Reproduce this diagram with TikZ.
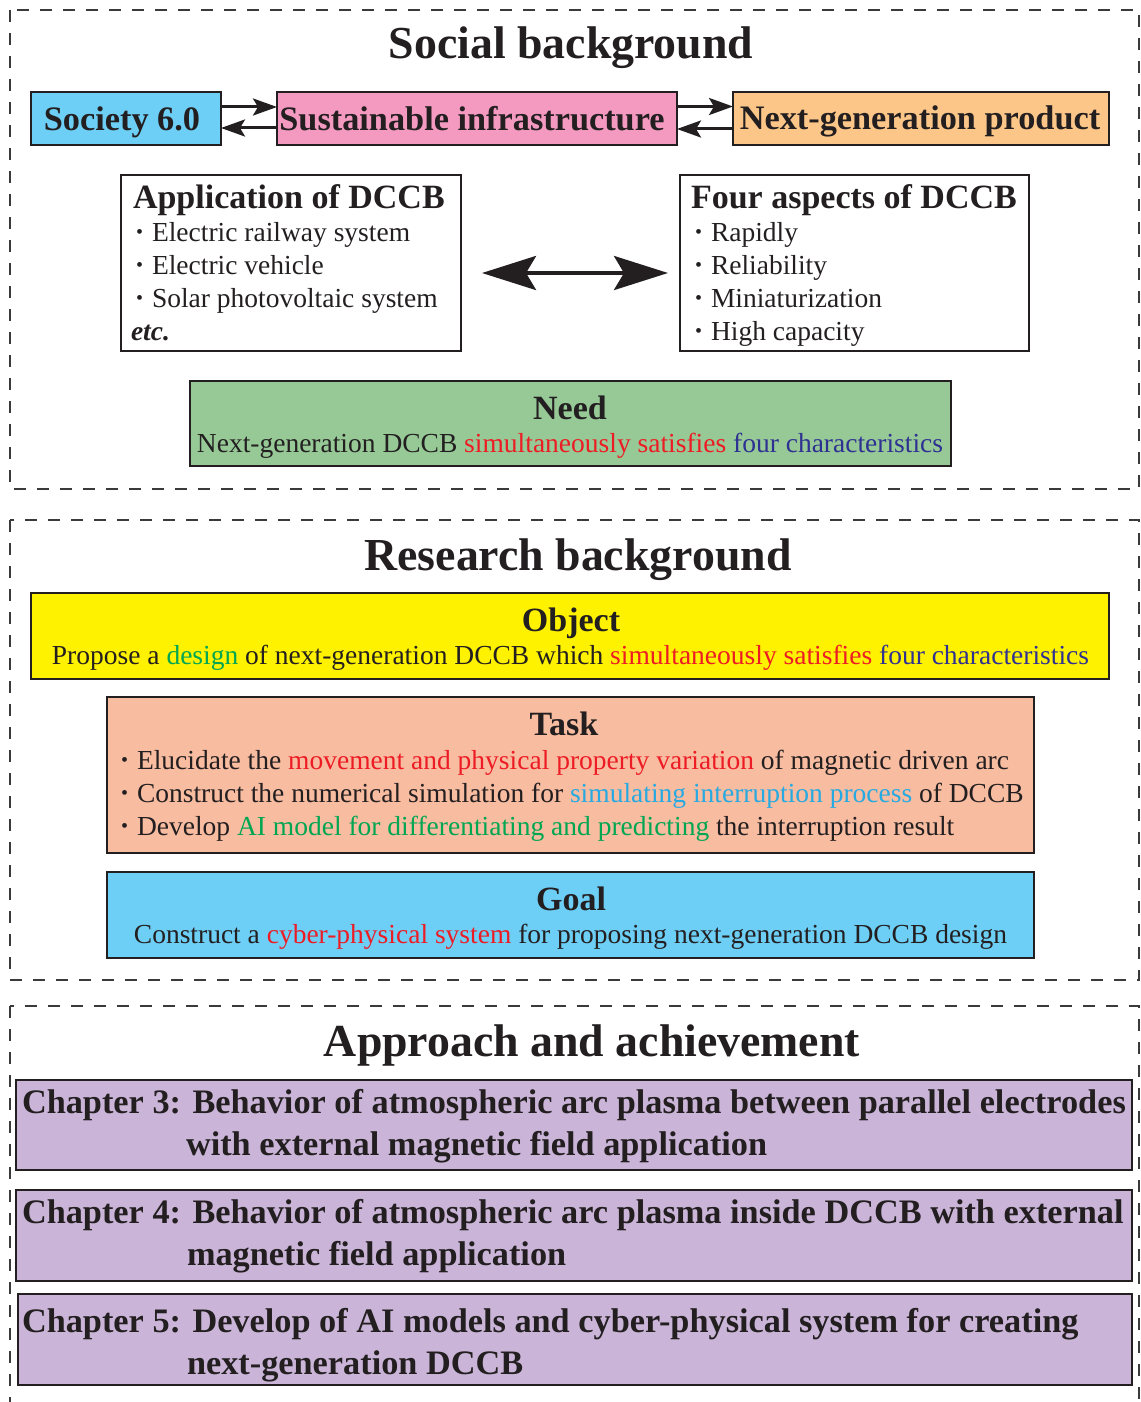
\documentclass[tikz,border=0pt]{standalone}
\usepackage{fontspec}
\setmainfont{Liberation Serif}
\usetikzlibrary{arrows.meta}

\definecolor{ink}{HTML}{231F20}
\definecolor{frameline}{HTML}{3A3A3C}
\definecolor{cyanfill}{HTML}{6DCFF6}
\definecolor{pinkfill}{HTML}{F49AC1}
\definecolor{orangefill}{HTML}{FDC689}
\definecolor{greenfill}{HTML}{97C997}
\definecolor{yellowfill}{HTML}{FFF200}
\definecolor{salmonfill}{HTML}{F8BCA1}
\definecolor{lavenderfill}{HTML}{CAB5D8}
\definecolor{hlred}{HTML}{ED1C24}
\definecolor{hlnavy}{HTML}{2E3192}
\definecolor{hlgreen}{HTML}{00A651}
\definecolor{hlsky}{HTML}{27AAE1}

\newcommand{\fsz}[1]{\fontsize{#1}{#1}\selectfont}
\newcommand{\dotmark}{\makebox[16pt][l]{\raisebox{2.5pt}{\fsz{20}\textbullet}}}

\begin{document}
\begin{tikzpicture}[x=1pt,y=-1pt,
  box/.style={draw=ink, line width=2pt, inner sep=0pt, outer sep=0pt},
  txt/.style={inner sep=0pt, outer sep=0pt, text=ink},
  sectitle/.style={txt, anchor=base, font=\fsz{45.8}\bfseries},
  rowtxt/.style={txt, anchor=base, font=\fsz{34.3}\bfseries},
  boxtitle/.style={txt, anchor=base, font=\fsz{34}\bfseries},
  bodytxt/.style={txt, anchor=base, font=\fsz{27.5}},
  listtxt/.style={txt, anchor=base west, font=\fsz{27.5}},
  chaptxt/.style={txt, anchor=base west, font=\fsz{34.3}\bfseries},
  frame/.style={draw=frameline, line width=2pt, dash pattern=on 12pt off 11pt},
  linkarrow/.style={draw=ink, line width=3pt, -{Stealth[length=24pt, width=17pt, inset=5pt]}},
  bigarrow/.style={draw=ink, line width=4pt, {Stealth[length=54pt, width=34pt, inset=10pt]}-{Stealth[length=54pt, width=34pt, inset=10pt]}}
]
\useasboundingbox (0,0) rectangle (1140,1402);
\clip (0,0) rectangle (1140,1402);

% dashed section frames
\draw[frame] (10,10) rectangle (1139,489);
\draw[frame] (10,520) rectangle (1139,980);
\draw[frame] (10,1006) rectangle (1139,1420);

% ---------------- Social background ----------------
\node[sectitle] (socialtitle) at (571,59) {Social background};

\node[box, fill=cyanfill, minimum width=190pt, minimum height=53pt] (soc) at (126,118.5) {};
\node[box, fill=pinkfill, minimum width=400pt, minimum height=53pt] (sus) at (477,118.5) {};
\node[box, fill=orangefill, minimum width=376pt, minimum height=53pt] (nxt) at (921,118.5) {};
\node[rowtxt] (soctxt) at (122,131) {Society 6.0};
\node[rowtxt] (sustxt) at (472,131) {Sustainable infrastructure};
\node[rowtxt] (nxttxt) at (920,130) {Next-generation product};

\draw[linkarrow] ([yshift=11.5pt]soc.east) -- ([yshift=11.5pt]sus.west);
\draw[linkarrow] ([yshift=-9.5pt]sus.west) -- ([yshift=-9.5pt]soc.east);
\draw[linkarrow] ([yshift=12pt]sus.east) -- ([yshift=12pt]nxt.west);
\draw[linkarrow] ([yshift=-10.5pt]nxt.west) -- ([yshift=-10.5pt]sus.east);

\node[box, minimum width=340pt, minimum height=176pt] (app) at (291,263) {};
\node[box, minimum width=349pt, minimum height=176pt] (four) at (854.5,263) {};

\node[boxtitle, anchor=base west] (apptitle) at (133,208) {Application of DCCB};
\node[listtxt] (app1) at (136,241) {\dotmark Electric railway system};
\node[listtxt] (app2) at (136,274) {\dotmark Electric vehicle};
\node[listtxt] (app3) at (136,307) {\dotmark Solar photovoltaic system};
\node[listtxt, font=\fsz{27.5}\bfseries\itshape] (app4) at (131,340) {etc.};

\node[boxtitle, anchor=base west] (fourtitle) at (691,208) {Four aspects of DCCB};
\node[listtxt] (four1) at (695,241) {\dotmark Rapidly};
\node[listtxt] (four2) at (695,274) {\dotmark Reliability};
\node[listtxt] (four3) at (695,307) {\dotmark Miniaturization};
\node[listtxt] (four4) at (695,340) {\dotmark High capacity};

\draw[bigarrow, shorten <=21pt, shorten >=12pt] ([yshift=-10pt]app.east) -- ([yshift=-10pt]four.west);

\node[box, fill=greenfill, minimum width=761pt, minimum height=85pt] (need) at (570.5,423.5) {};
\node[boxtitle] (needtitle) at (570,419) {Need};
\node[bodytxt] (needtxt) at (570,452) {Next-generation DCCB \textcolor{hlred}{simultaneously satisfies} \textcolor{hlnavy}{four characteristics}};

% ---------------- Research background ----------------
\node[sectitle] (researchtitle) at (578,570) {Research background};

\node[box, fill=yellowfill, minimum width=1078pt, minimum height=86pt] (obj) at (570,636) {};
\node[boxtitle] (objtitle) at (571,631) {Object};
\node[bodytxt] (objtxt) at (570.5,664) {Propose a \textcolor{hlgreen}{design} of next-generation DCCB which \textcolor{hlred}{simultaneously satisfies} \textcolor{hlnavy}{four characteristics}};

\node[box, fill=salmonfill, minimum width=927pt, minimum height=156pt] (task) at (570.5,775) {};
\node[boxtitle] (tasktitle) at (564,735) {Task};
\node[listtxt] (task1) at (121,769) {\dotmark Elucidate the \textcolor{hlred}{movement and physical property variation} of magnetic driven arc};
\node[listtxt] (task2) at (121,802) {\dotmark Construct the numerical simulation for \textcolor{hlsky}{simulating interruption process} of DCCB};
\node[listtxt] (task3) at (121,835) {\dotmark Develop \textcolor{hlgreen}{AI model for differentiating and predicting} the interruption result};

\node[box, fill=cyanfill, minimum width=927pt, minimum height=86pt] (goal) at (570.5,915) {};
\node[boxtitle] (goaltitle) at (571,910) {Goal};
\node[bodytxt] (goaltxt) at (570.5,943) {Construct a \textcolor{hlred}{cyber-physical system} for proposing next-generation DCCB design};

% ---------------- Approach and achievement ----------------
\node[sectitle] (approachtitle) at (592,1056) {Approach and achievement};

\node[box, fill=lavenderfill, minimum width=1116pt, minimum height=90pt] (ch3) at (574,1125) {};
\node[chaptxt] (ch3a) at (22,1113) {Chapter 3: Behavior of atmospheric arc plasma between parallel electrodes};
\node[chaptxt] (ch3b) at (186,1155) {with external magnetic field application};

\node[box, fill=lavenderfill, minimum width=1116pt, minimum height=91pt] (ch4) at (574,1235.5) {};
\node[chaptxt] (ch4a) at (22,1223) {Chapter 4: Behavior of atmospheric arc plasma inside DCCB with external};
\node[chaptxt] (ch4b) at (187,1265) {magnetic field application};

\node[box, fill=lavenderfill, minimum width=1114pt, minimum height=91pt] (ch5) at (575,1339.5) {};
\node[chaptxt] (ch5a) at (22,1332) {Chapter 5: Develop of AI models and cyber-physical system for creating};
\node[chaptxt] (ch5b) at (187,1374) {next-generation DCCB};
\end{tikzpicture}
\end{document}
